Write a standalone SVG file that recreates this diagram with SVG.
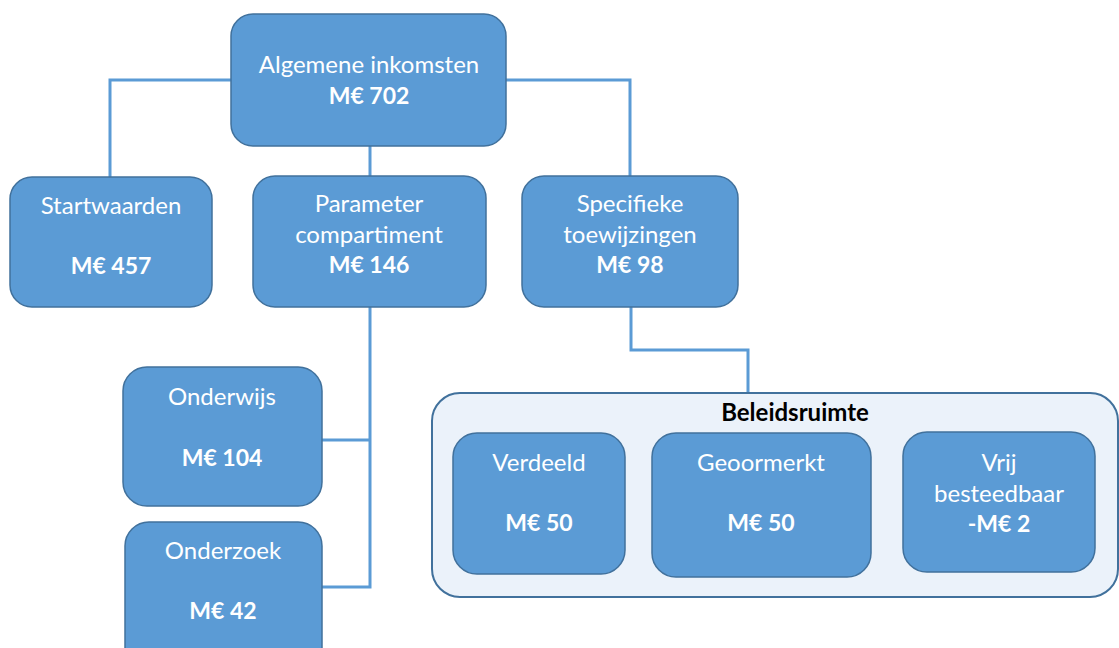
<svg xmlns="http://www.w3.org/2000/svg" width="1119" height="648" viewBox="0 0 1119 648">
<style>
.box{fill:#5b9bd5;stroke:#41719c;stroke-width:1.5}
.cont{fill:#ebf2fa;stroke:#41719c;stroke-width:2}
.t{font-family:Lato,"Open Sans","Liberation Sans",sans-serif;font-size:24px;fill:#ffffff;text-anchor:middle}
.b{font-weight:bold;font-size:23px}
.k{fill:#000000;font-size:24px}
.c{fill:none;stroke:#5b9bd5;stroke-width:3}
</style>
<rect width="1119" height="648" fill="#ffffff"/>
<g id="connectors">
<polyline class="c" points="231,80 110,80 110,177"/>
<polyline class="c" points="506,80 630,80 630,177"/>
<line class="c" x1="370" y1="146" x2="370" y2="176"/>
<polyline class="c" points="370,307 370,587 322,587"/>
<line class="c" x1="322" y1="440" x2="370" y2="440"/>
<polyline class="c" points="631,307 631,350 748,350 748,393"/>
</g>
<g id="algemene">
<rect class="box" x="231" y="14" width="275" height="132" rx="22"/>
<text class="t" x="369" y="73">Algemene inkomsten</text>
<text class="t b" x="369" y="104">M€ 702</text>
</g>
<g id="startwaarden">
<rect class="box" x="10" y="177" width="202" height="130" rx="22"/>
<text class="t" x="111" y="214">Startwaarden</text>
<text class="t b" x="111" y="274">M€ 457</text>
</g>
<g id="parameter">
<rect class="box" x="253" y="176" width="233" height="131" rx="22"/>
<text class="t" x="369" y="212">Parameter</text>
<text class="t" x="369" y="243">compartiment</text>
<text class="t b" x="369" y="273">M€ 146</text>
</g>
<g id="specifieke">
<rect class="box" x="522" y="176" width="216" height="131" rx="22"/>
<text class="t" x="630" y="212">Specifieke</text>
<text class="t" x="630" y="243">toewijzingen</text>
<text class="t b" x="630" y="273">M€ 98</text>
</g>
<g id="onderwijs">
<rect class="box" x="123" y="367" width="199" height="139" rx="24"/>
<text class="t" x="222" y="405">Onderwijs</text>
<text class="t b" x="222" y="466">M€ 104</text>
</g>
<g id="onderzoek">
<rect class="box" x="125" y="522" width="197" height="150" rx="24"/>
<text class="t" x="223" y="559">Onderzoek</text>
<text class="t b" x="223" y="619">M€ 42</text>
</g>
<g id="beleidsruimte">
<rect class="cont" x="432" y="393" width="686" height="204" rx="28"/>
<text class="t b k" x="795" y="421">Beleidsruimte</text>
</g>
<g id="verdeeld">
<rect class="box" x="453" y="433" width="172" height="141" rx="24"/>
<text class="t" x="539" y="471">Verdeeld</text>
<text class="t b" x="539" y="531">M€ 50</text>
</g>
<g id="geoormerkt">
<rect class="box" x="652" y="433" width="219" height="144" rx="24"/>
<text class="t" x="761" y="471">Geoormerkt</text>
<text class="t b" x="761" y="531">M€ 50</text>
</g>
<g id="vrij">
<rect class="box" x="903" y="432" width="192" height="140" rx="24"/>
<text class="t" x="999" y="471">Vrij</text>
<text class="t" x="999" y="502">besteedbaar</text>
<text class="t b" x="999" y="532">-M€ 2</text>
</g>
</svg>
